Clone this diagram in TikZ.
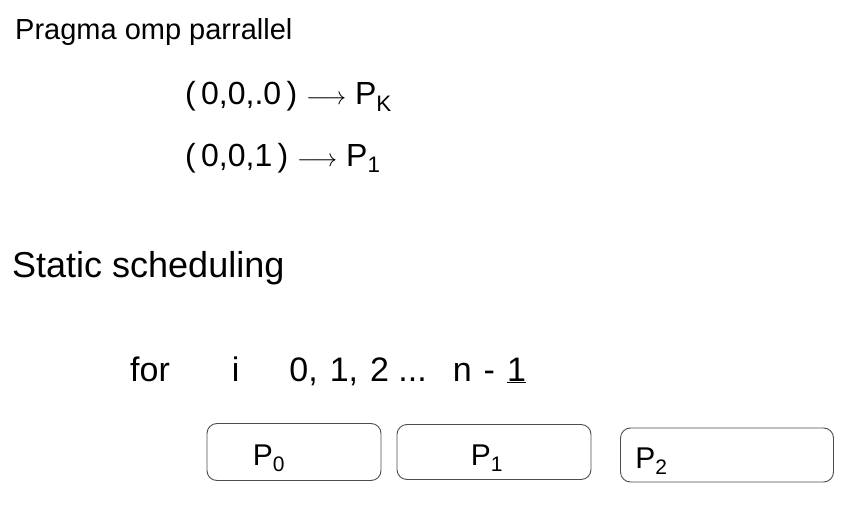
\documentclass[tikz,border=0pt]{standalone}
\usepackage{fontspec}
\setmainfont{Liberation Sans}
\usetikzlibrary{positioning}

\tikzset{
  note/.style={anchor=base west, inner sep=0pt, font=\fontsize{32}{34}\selectfont},
  pbox/.style={draw=black!70, line width=0.9pt, rounded corners=10pt, inner sep=0pt},
  plab/.style={anchor=west, inner sep=0pt, yshift=-6pt, font=\fontsize{30}{32}\selectfont}
}

\begin{document}
\begin{tikzpicture}[x=1pt,y=-1pt]
 \useasboundingbox (0,0) rectangle (844,511);
 %\draw[step=50, gray, very thin] (0,0) grid (844,511);
 \node[note, font=\fontsize{29}{31}\selectfont] (title) at (15,40) {Pragma omp parrallel};
 \node[note] (map0) at (185,105) {(\,0,0,.0\,) $\longrightarrow$ P\textsubscript{K}};
 \node[note] (map1) at (185,166) {(\,0,0,1\,) $\longrightarrow$ P\textsubscript{1}};

 \node[note, font=\fontsize{36}{38}\selectfont] (static) at (12,277) {Static scheduling};
 \node[note, font=\fontsize{34}{36}\selectfont] (loop) at (130,381) {for\hspace{62pt}i\hspace{50pt}0,\hspace{12pt}1,\hspace{12pt}2\ ...\hspace{26pt}n\hspace{12pt}-\hspace{12pt}\underline{1}};

 \node[pbox, minimum width=174pt, minimum height=57pt] (b0) at (294,452) {};
 \node[pbox, minimum width=194pt, minimum height=55pt] (b1) at (494,452) {};
 \node[pbox, minimum width=213pt, minimum height=54pt] (b2) at (727,455) {};

 \node[plab, right=46pt of b0.west] (p0) {P\textsubscript{0}};
 \node[plab, right=74pt of b1.west] (p1) {P\textsubscript{1}};
 \node[plab, right=15pt of b2.west] (p2) {P\textsubscript{2}};
\end{tikzpicture}
\end{document}
